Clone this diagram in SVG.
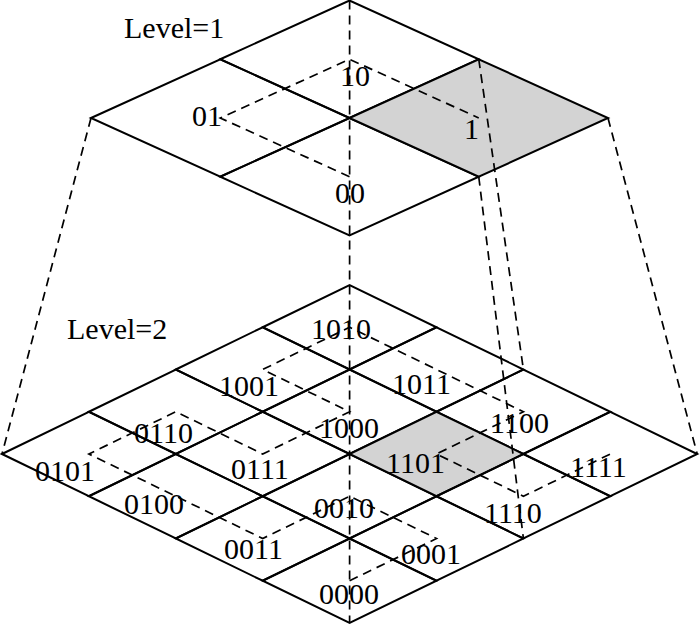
<svg xmlns="http://www.w3.org/2000/svg" width="700" height="625" viewBox="0 0 700 625">
<style>
.cell{fill:none;stroke:#000;stroke-width:2;stroke-linejoin:miter}
.shade{fill:#d3d3d3}
.dash{fill:none;stroke:#000;stroke-width:1.7;stroke-dasharray:9 6}
text{font-family:"Liberation Serif","Times New Roman",serif;font-size:30px;fill:#000}
</style>
<rect width="700" height="625" fill="#fff"/>
<g id="level1">
<text x="124" y="38">Level=1</text>
<g id="c1-01"><polygon class="cell" points="91,118 220.25,59.25 349.5,118 220.25,176.75"/><text x="192" y="126">01</text></g>
<g id="c1-10"><polygon class="cell" points="220.25,59.25 349.5,0.5 478.75,59.25 349.5,118"/><text x="340" y="86">10</text></g>
<g id="c1-00"><polygon class="cell" points="220.25,176.75 349.5,118 478.75,176.75 349.5,235.5"/><text x="335" y="203">00</text></g>
<g id="c1-11"><polygon class="cell shade" points="349.5,118 478.75,59.25 608,118 478.75,176.75"/><text x="464" y="139">1</text></g>
</g>
<g id="level2">
<text x="67" y="339">Level=2</text>
<g id="c2-0000"><polygon class="cell" points="262.7,580.75 349.6,538.5 436.5,580.75 349.6,623"/><text x="319" y="604">0000</text></g>
<g id="c2-0001"><polygon class="cell" points="349.6,538.5 436.5,496.25 523.4,538.5 436.5,580.75"/><text x="401" y="564">0001</text></g>
<g id="c2-0010"><polygon class="cell" points="262.7,496.25 349.6,454 436.5,496.25 349.6,538.5"/><text x="314" y="518">0010</text></g>
<g id="c2-0011"><polygon class="cell" points="175.8,538.5 262.7,496.25 349.6,538.5 262.7,580.75"/><text x="224" y="559">0011</text></g>
<g id="c2-0100"><polygon class="cell" points="88.9,496.25 175.8,454 262.7,496.25 175.8,538.5"/><text x="124" y="514">0100</text></g>
<g id="c2-0101"><polygon class="cell" points="2,454 88.9,411.75 175.8,454 88.9,496.25"/><text x="35" y="481">0101</text></g>
<g id="c2-0110"><polygon class="cell" points="88.9,411.75 175.8,369.5 262.7,411.75 175.8,454"/><text x="134" y="443">0110</text></g>
<g id="c2-0111"><polygon class="cell" points="175.8,454 262.7,411.75 349.6,454 262.7,496.25"/><text x="231" y="479">0111</text></g>
<g id="c2-1000"><polygon class="cell" points="262.7,411.75 349.6,369.5 436.5,411.75 349.6,454"/><text x="319" y="438">1000</text></g>
<g id="c2-1001"><polygon class="cell" points="175.8,369.5 262.7,327.25 349.6,369.5 262.7,411.75"/><text x="219" y="396">1001</text></g>
<g id="c2-1010"><polygon class="cell" points="262.7,327.25 349.6,285 436.5,327.25 349.6,369.5"/><text x="311" y="339">1010</text></g>
<g id="c2-1011"><polygon class="cell" points="349.6,369.5 436.5,327.25 523.4,369.5 436.5,411.75"/><text x="392" y="394">1011</text></g>
<g id="c2-1100"><polygon class="cell" points="436.5,411.75 523.4,369.5 610.3,411.75 523.4,454"/><text x="490" y="433">1100</text></g>
<g id="c2-1101"><polygon class="cell shade" points="349.6,454 436.5,411.75 523.4,454 436.5,496.25"/><text x="386" y="473">1101</text></g>
<g id="c2-1110"><polygon class="cell" points="436.5,496.25 523.4,454 610.3,496.25 523.4,538.5"/><text x="484" y="523">1110</text></g>
<g id="c2-1111"><polygon class="cell" points="523.4,454 610.3,411.75 697.2,454 610.3,496.25"/><text x="570" y="477">1111</text></g>
</g>
<g id="connectors">
<line class="dash" x1="349.6" y1="0.5" x2="349.6" y2="623"/>
<line class="dash" x1="91" y1="118" x2="2" y2="454"/>
<line class="dash" x1="608" y1="118" x2="697.2" y2="454"/>
<line class="dash" x1="478.75" y1="59.25" x2="523.4" y2="369.5"/>
<line class="dash" x1="478.75" y1="176.75" x2="523.4" y2="538.5"/>
<polyline class="dash" points="349.5,176.75 220.25,118 349.5,59.25 478.75,118"/>
<polyline class="dash" points="349.6,580.75 436.5,538.5 349.6,496.25 262.7,538.5 175.8,496.25 88.9,454 175.8,411.75 262.7,454 349.6,411.75 262.7,369.5 349.6,327.25 436.5,369.5 523.4,411.75 436.5,454 523.4,496.25 610.3,454"/>
</g>
</svg>
